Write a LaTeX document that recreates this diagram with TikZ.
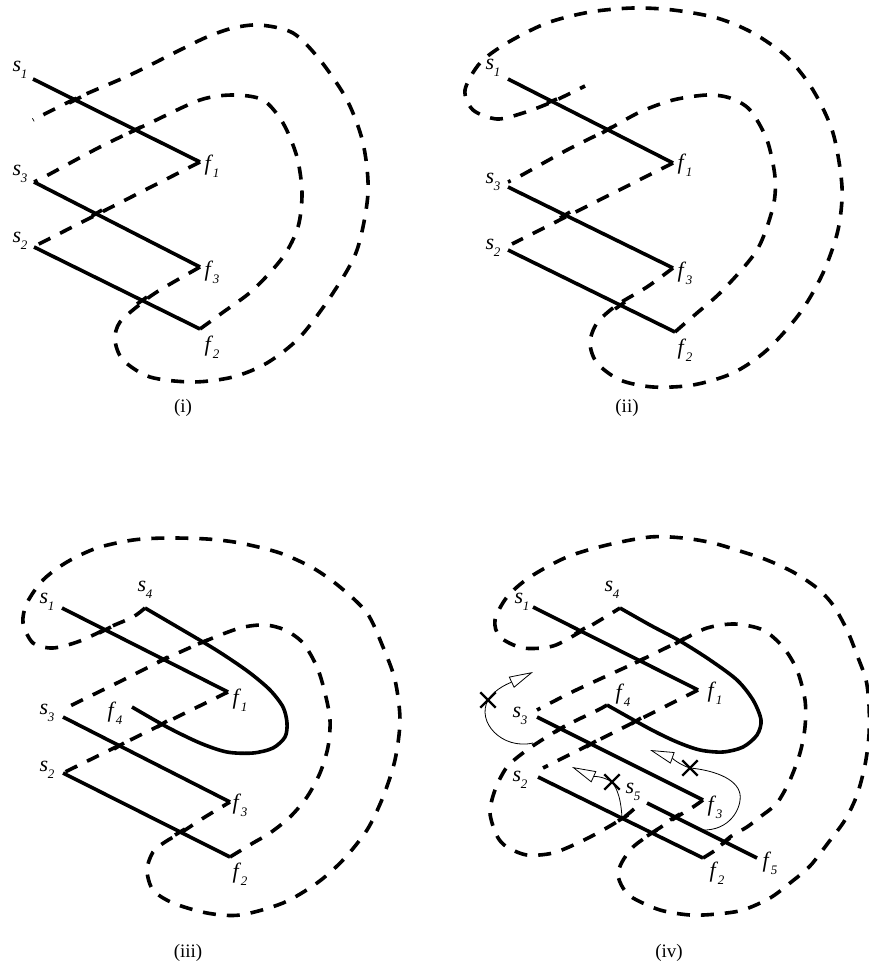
\documentclass[tikz,border=0pt]{standalone}
\usepackage{fontspec}
\setmainfont{Liberation Serif}
\usetikzlibrary{arrows.meta,shapes.misc}
\newcommand\lbl[2]{\textit{#1}\kern-0.02em\raisebox{-0.32em}{\fontsize{13}{13}\selectfont\textit{#2}}}
\begin{document}
\begin{tikzpicture}[x=1pt,y=-1pt,
  track/.style={line width=3.6pt},
  link/.style={line width=3.6pt,dash pattern=on 13pt off 11pt},
  crossdash/.style={line width=3.6pt},
  lab/.style={font=\fontsize{22}{22}\selectfont,inner sep=0pt},
  captext/.style={font=\fontsize{19}{19}\selectfont,inner sep=0pt},
  thinarc/.style={line width=0.8pt,-{Triangle[length=24pt,width=12pt,fill=white,line width=0.8pt]}},
  xmark/.style={draw,cross out,line width=2.4pt,minimum size=13pt,inner sep=0pt}]
\useasboundingbox (0,0) rectangle (869,971);

% ================= panel (i) =================
\coordinate (a-s1) at (33,79);  \coordinate (a-f1) at (200,162);
\coordinate (a-s3) at (34,182); \coordinate (a-f3) at (200,267);
\coordinate (a-s2) at (34,247); \coordinate (a-f2) at (200,329);
\coordinate (a-b) at (37,245);  \coordinate (a-end) at (33,120);
\draw[track] (a-s1) -- (a-f1);
\draw[track] (a-s3) -- (a-f3);
\draw[track] (a-s2) -- (a-f2);
\draw[link] (a-f1) -- (a-b);
\draw[link] plot[smooth] coordinates {(a-f2) (222,313) (253,290) (283,257) (298,227) (302,193) (297,157) (283,123) (263,100) (233,95) (200,100) (150,123) (100,147) (48,175) (a-s3)};
\draw[link] plot[smooth] coordinates {(a-f3) (160,290) (143,302) (120,322) (115,340) (123,360) (150,377) (193,382) (233,377) (267,363) (300,337) (333,293) (357,250) (368,193) (363,143) (347,100) (320,60) (293,33) (260,25) (233,28) (207,37) (180,50) (130,75) (77,98) (a-end)};
% dashes lying across the tracks
\draw[crossdash] (69,103) -- (81,97);
\draw[crossdash] (129,133) -- (141,127);
\draw[crossdash] (92,216) -- (102,210);
\draw[crossdash] (137,304) -- (147,297);
\node[lab] (a-s1l) at (20,70) {\lbl{s}{1}};
\node[lab] (a-s3l) at (20,174) {\lbl{s}{3}};
\node[lab] (a-s2l) at (20,241) {\lbl{s}{2}};
\node[lab] (a-f1l) at (212,166) {\lbl{f}{1}};
\node[lab] (a-f3l) at (212,272) {\lbl{f}{3}};
\node[lab] (a-f2l) at (212,347) {\lbl{f}{2}};
\node[captext] (a-cap) at (183,408) {(i)};

% ================= panel (ii) =================
\coordinate (b-s1) at (508,79);  \coordinate (b-f1) at (673,163);
\coordinate (b-s3) at (508,187); \coordinate (b-f3) at (673,268);
\coordinate (b-s2) at (508,250); \coordinate (b-f2) at (675,332);
\coordinate (b-b) at (512,244);  \coordinate (b-dot) at (508,182);
\coordinate (b-end) at (585,86);
\draw[track] (b-s1) -- (b-f1);
\draw[track] (b-s3) -- (b-f3);
\draw[track] (b-s2) -- (b-f2);
\draw[link] (b-f1) -- (b-b);
\draw[link] plot[smooth] coordinates {(b-f2) (683,325) (697,313) (723,290) (757,250) (773,207) (775,177) (767,140) (750,110) (730,98) (707,95) (673,100) (640,112) (607,130) (567,150) (522,175) (b-dot)};
\draw[link] plot[smooth] coordinates {(b-f3) (647,287) (617,305) (597,323) (590,343) (597,363) (620,380) (653,387) (693,385) (733,373) (767,350) (800,313) (823,273) (838,230) (842,187) (833,133) (813,90) (787,57) (753,33) (717,18) (673,10) (633,8) (590,12) (547,23) (507,43) (480,63) (465,90) (473,110) (497,119) (523,113) (552,102) (b-end)};
\draw[crossdash] (602,133) -- (612,127);
\draw[crossdash] (547,103) -- (557,99);
\draw[crossdash] (560,218) -- (570,212);
\draw[crossdash] (615,309) -- (625,302);
\node[lab] (b-s1l) at (493,68) {\lbl{s}{1}};
\node[lab] (b-s3l) at (493,182) {\lbl{s}{3}};
\node[lab] (b-s2l) at (493,248) {\lbl{s}{2}};
\node[lab] (b-f1l) at (685,165) {\lbl{f}{1}};
\node[lab] (b-f3l) at (685,273) {\lbl{f}{3}};
\node[lab] (b-f2l) at (685,350) {\lbl{f}{2}};
\node[captext] (b-cap) at (627,408) {(ii)};

% ================= panel (iii) =================
\coordinate (c-s1) at (62,608);  \coordinate (c-f1) at (228,692);
\coordinate (c-s3) at (63,717);  \coordinate (c-f3) at (230,802);
\coordinate (c-s2) at (63,773);  \coordinate (c-f2) at (230,857);
\coordinate (c-s4) at (145,608); \coordinate (c-f4) at (132,707);
\coordinate (c-dot) at (63,710);
\draw[track] (c-s1) -- (c-f1);
\draw[track] (c-s3) -- (c-f3);
\draw[track] (c-s2) -- (c-f2);
\draw[track] plot[smooth] coordinates {(c-s4) (203,642) (227,657) (250,673) (270,690) (283,707) (287,723) (285,737) (273,748) (253,753) (227,752) (200,743) (167,727) (c-f4)};
\draw[link] (c-f1) -- (c-s2);
\draw[link] plot[smooth] coordinates {(c-s4) (133,617) (110,627) (80,641) (53,648) (33,643) (23,623) (27,603) (43,580) (67,562) (97,548) (133,540) (167,538) (207,539) (240,543) (280,553) (313,568) (340,587) (367,613) (383,647) (395,680) (400,720) (395,760) (383,797) (367,830) (343,860) (317,883) (283,903) (240,915) (207,913) (173,903) (153,890) (147,870) (153,852) (165,842) (182,832) (205,817) (c-f3)};
\draw[link] plot[smooth] coordinates {(c-f2) (253,843) (270,833) (290,817) (307,797) (320,773) (328,747) (330,720) (325,693) (317,667) (303,643) (285,630) (265,625) (240,628) (203,642) (163,660) (117,683) (72,705) (c-dot)};
\draw[crossdash] (99,633) -- (111,627);
\draw[crossdash] (198,644) -- (208,640);
\draw[crossdash] (158,662) -- (168,657);
\draw[crossdash] (157,727) -- (167,721);
\draw[crossdash] (114,749) -- (124,743);
\draw[crossdash] (175,835) -- (185,829);
\node[lab] (c-s1l) at (47,602) {\lbl{s}{1}};
\node[lab] (c-s4l) at (145,590) {\lbl{s}{4}};
\node[lab] (c-s3l) at (47,713) {\lbl{s}{3}};
\node[lab] (c-f4l) at (115,713) {\lbl{f}{4}};
\node[lab] (c-s2l) at (47,770) {\lbl{s}{2}};
\node[lab] (c-f1l) at (240,700) {\lbl{f}{1}};
\node[lab] (c-f3l) at (240,805) {\lbl{f}{3}};
\node[lab] (c-f2l) at (240,874) {\lbl{f}{2}};
\node[captext] (c-cap) at (188,953) {(iii)};

% ================= panel (iv) =================
\coordinate (d-s1) at (533,607); \coordinate (d-f1) at (698,690);
\coordinate (d-s3) at (537,717); \coordinate (d-f3) at (703,800);
\coordinate (d-s2) at (538,777); \coordinate (d-f2) at (703,858);
\coordinate (d-s4) at (620,608); \coordinate (d-f4) at (607,705);
\coordinate (d-s5) at (647,803); \coordinate (d-f5) at (757,858);
\coordinate (d-dot) at (537,710); \coordinate (d-b) at (543,768);
\coordinate (d-e5) at (634,809);
\draw[track] (d-s1) -- (d-f1);
\draw[track] (d-s3) -- (d-f3);
\draw[track] (d-s2) -- (d-f2);
\draw[track] (d-s5) -- (d-f5);
\draw[track] plot[smooth] coordinates {(d-s4) (650,625) (680,641) (710,660) (737,680) (753,700) (761,720) (757,735) (743,747) (723,752) (700,750) (677,742) (650,729) (d-f4)};
\draw[link] (d-f1) -- (d-b);
\draw[link] plot[smooth] coordinates {(d-f2) (717,849) (730,837) (747,827) (760,817) (777,803) (790,780) (800,753) (805,727) (805,700) (797,670) (783,647) (763,630) (735,624) (707,628) (680,641) (637,662) (600,679) (570,693) (d-dot)};
\draw[link] plot[smooth] coordinates {(d-f3) (693,807) (675,818) (652,833) (633,847) (622,862) (618,875) (623,888) (633,898) (660,910) (690,915) (717,914) (743,910) (770,898) (790,883) (810,866) (828,843) (845,820) (857,795) (865,765) (869,735) (869,705) (866,680) (857,655) (847,630) (833,605) (817,588) (793,572) (767,560) (743,552) (713,543) (683,538) (650,537) (607,545) (567,557) (530,577) (507,597) (495,620) (500,637) (523,648) (553,646) (580,632) (607,616) (d-s4)};
\draw[link] plot[smooth] coordinates {(d-f4) (598,710) (573,722) (553,733) (527,750) (507,767) (495,790) (490,813) (497,836) (507,847) (527,855) (553,853) (580,842) (603,830) (623,818) (d-e5)};
\draw[crossdash] (575,634) -- (585,628);
\draw[crossdash] (675,644) -- (685,638);
\draw[crossdash] (635,663) -- (645,658);
\draw[crossdash] (631,724) -- (641,718);
\draw[crossdash] (586,747) -- (596,741);
\draw[crossdash] (555,732) -- (565,726);
\draw[crossdash] (618,821) -- (628,815);
\draw[crossdash] (647,836) -- (657,830);
\draw[crossdash] (670,820) -- (680,814);
\draw[crossdash] (721,845) -- (730,838);
% thin arrows with crosses
\node[xmark] (x1) at (488,700) {};
\node[xmark] (x2) at (612,782) {};
\node[xmark] (x3) at (690,768) {};
\coordinate (t1s) at (533,743); \coordinate (t1e) at (533,672);
\coordinate (t2s) at (622,818); \coordinate (t2e) at (572,767);
\coordinate (t3s) at (702,830); \coordinate (t3e) at (650,750);
\draw[thinarc] (t1s) .. controls (502,750) and (476,722) .. (x1.center) .. controls (495,688) and (512,682) .. (t1e);
\draw[thinarc] (t2s) .. controls (621,800) and (618,790) .. (x2.center) .. controls (603,776) and (592,776) .. (t2e);
\draw[thinarc] (t3s) .. controls (730,831) and (742,808) .. (740,794) .. controls (737,778) and (712,770) .. (x3.center) .. controls (680,765) and (670,757) .. (t3e);
\node[lab] (d-s1l) at (522,602) {\lbl{s}{1}};
\node[lab] (d-s4l) at (612,590) {\lbl{s}{4}};
\node[lab] (d-s3l) at (520,716) {\lbl{s}{3}};
\node[lab] (d-f4l) at (623,695) {\lbl{f}{4}};
\node[lab] (d-s2l) at (520,780) {\lbl{s}{2}};
\node[lab] (d-s5l) at (633,792) {\lbl{s}{5}};
\node[lab] (d-f1l) at (715,693) {\lbl{f}{1}};
\node[lab] (d-f3l) at (715,807) {\lbl{f}{3}};
\node[lab] (d-f2l) at (717,873) {\lbl{f}{2}};
\node[lab] (d-f5l) at (770,863) {\lbl{f}{5}};
\node[captext] (d-cap) at (669,953) {(iv)};
\end{tikzpicture}
\end{document}
